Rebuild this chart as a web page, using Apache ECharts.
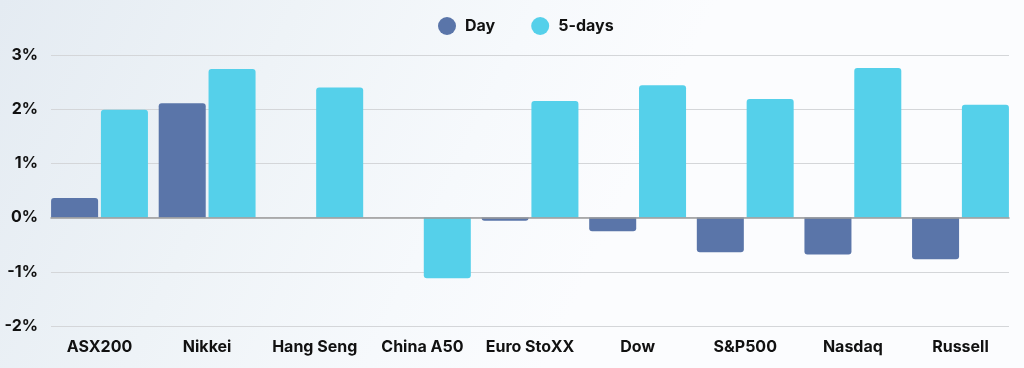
<!DOCTYPE html>
<html>
<head>
<meta charset="utf-8">
<script src="https://cdn.jsdelivr.net/npm/echarts@6/dist/echarts.min.js"></script>
<style>
html,body{margin:0;padding:0;}
body{width:1024px;height:368px;background:linear-gradient(115deg,#e4ebf2 0%,#eef3f7 25%,#f6f9fc 45%,#fbfcfe 60%,#fbfcfe 100%);}
#c{width:1024px;height:368px;}
</style>
</head>
<body>
<div id="c"></div>
<script>
const categories = ['ASX200','Nikkei','Hang Seng','China A50','Euro StoXX','Dow','S&P500','Nasdaq','Russell'];
const dayValues = [0.36, 2.11, 0, 0, -0.06, -0.25, -0.64, -0.68, -0.77];
const fiveDayValues = [1.99, 2.74, 2.40, -1.12, 2.15, 2.44, 2.19, 2.76, 2.08];
const yTicks = { min: -2, max: 3, interval: 1 };
const seriesNames = ['Day', '5-days'];

const FONT = 'Inter, "Open Sans", sans-serif';
const withRadius = v => ({ value: v, itemStyle: { borderRadius: v < 0 ? [0,0,3,3] : [3,3,0,0] } });

const chart = echarts.init(document.getElementById('c'), null, { renderer: 'canvas' });
chart.setOption({
  backgroundColor: 'transparent',
  animation: false,
  color: ['#5a75a9', '#55d0ea'],
  legend: {
    top: 12, left: 433,
    itemWidth: 18, itemHeight: 18, itemGap: 36,
    icon: 'circle',
    textStyle: { fontFamily: FONT, fontWeight: 'bold', fontSize: 16, color: '#111', padding: [0,0,0,4] },
    data: seriesNames
  },
  grid: [
    { left: 51, right: 15, top: 55, bottom: 42 },
    { left: 45.7, right: 9.7, top: 55, bottom: 42 }
  ],
  xAxis: [
    { gridIndex: 0, type: 'category', data: categories, axisLabel: { show: false }, axisTick: { show: false },
      axisLine: { show: true, onZero: true, lineStyle: { color: '#9a9a9a', width: 1.5 } }, z: 5 },
    { gridIndex: 1, type: 'category', data: categories, axisTick: { show: false }, axisLine: { show: false },
      axisLabel: { interval: 0, position: 'bottom', margin: 13, fontFamily: FONT, fontWeight: 'bold', fontSize: 16, color: '#111' } }
  ],
  yAxis: [
    { gridIndex: 0, type: 'value', min: yTicks.min, max: yTicks.max, interval: yTicks.interval,
      axisLabel: { formatter: '{value}%', margin: 13, fontFamily: FONT, fontWeight: 'bold', fontSize: 16, color: '#111' },
      splitLine: { lineStyle: { color: '#d4d6d9', width: 1.2 } },
      axisLine: { show: false }, axisTick: { show: false } },
    { gridIndex: 1, type: 'value', min: yTicks.min, max: yTicks.max, interval: yTicks.interval,
      show: false, splitLine: { show: false } }
  ],
  series: [
    { name: seriesNames[0], type: 'bar', xAxisIndex: 1, yAxisIndex: 1, barGap: '6%', barCategoryGap: '10%',
      data: dayValues.map(withRadius), z: 3 },
    { name: seriesNames[1], type: 'bar', xAxisIndex: 1, yAxisIndex: 1, barGap: '6%', barCategoryGap: '10%',
      data: fiveDayValues.map(withRadius), z: 3 }
  ]
});
</script>
</body>
</html>
